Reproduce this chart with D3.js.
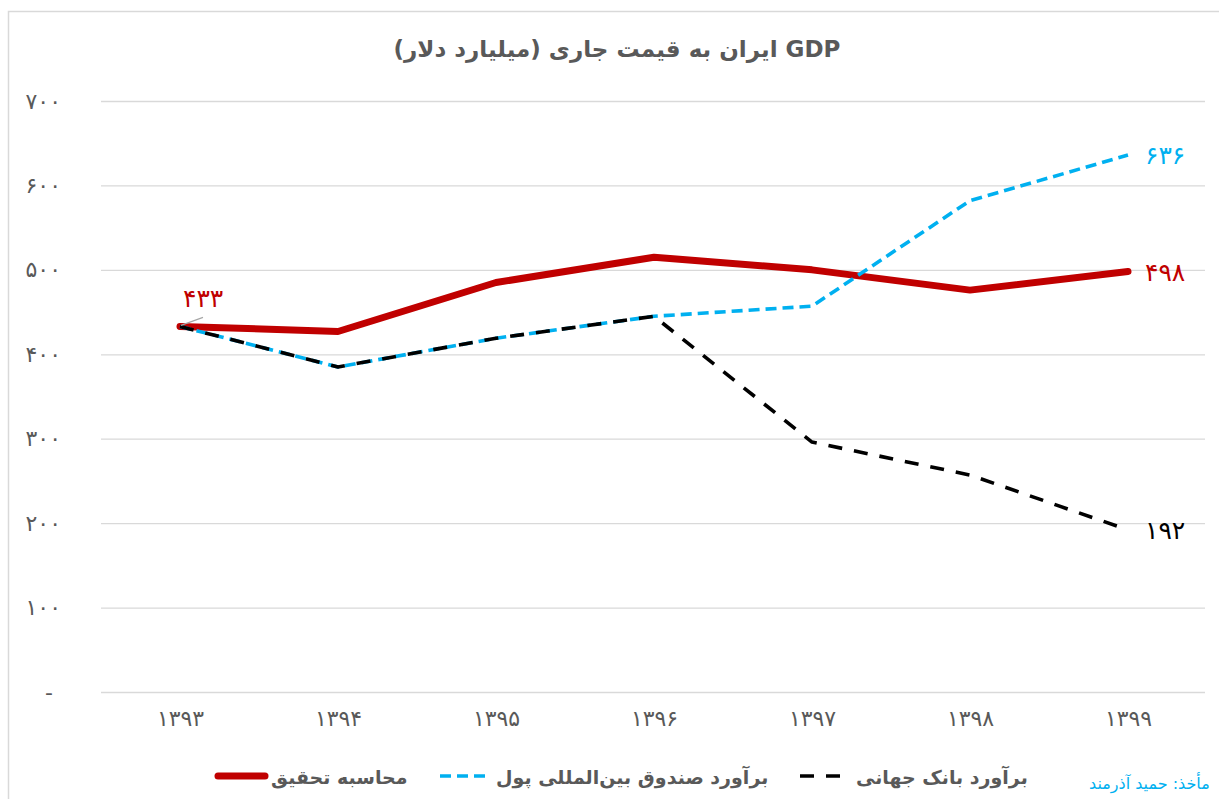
<!DOCTYPE html>
<html>
<head>
<meta charset="utf-8">
<script src="https://cdn.jsdelivr.net/npm/d3@7"></script>
<style>
  body { margin: 0; background: #fff; }
  text { font-family: "DejaVu Sans", sans-serif; }
</style>
</head>
<body>
<div id="chart"></div>
<script>
var years = [1393, 1394, 1395, 1396, 1397, 1398, 1399];
var research = [433, 427, 485, 515, 500, 476, 498];   // محاسبه تحقیق
var imf = [433, 385, 419, 445, 457, 582, 636];        // صندوق بین‌المللی پول
var wb = [433, 385, 419, 445, 296, 257, 192];         // بانک جهانی
var yTicks = [0, 100, 200, 300, 400, 500, 600, 700];

var title = "GDP ایران به قیمت جاری (میلیارد دلار)";
var seriesNames = ["محاسبه تحقیق", "برآورد صندوق بین‌المللی پول", "برآورد بانک جهانی"];
var source = "مأخذ: حمید آذرمند";

var width = 1219, height = 799;
var plot = {left: 101, right: 1207, top: 101, bottom: 692};

function fa(n) {
  return String(n).replace(/\d/g, function(d) { return "۰۱۲۳۴۵۶۷۸۹"[d]; });
}

var svg = d3.select("#chart").append("svg")
    .attr("width", width)
    .attr("height", height);

svg.append("rect")
    .attr("x", 8.5).attr("y", 11.5)
    .attr("width", 1300).attr("height", 900)
    .attr("fill", "none").attr("stroke", "#d9d9d9").attr("stroke-width", 1.5);

var x = d3.scalePoint().domain(years).range([plot.left, plot.right]).padding(0.5),
    y = d3.scaleLinear().domain([0, 700]).range([plot.bottom, plot.top]);

// title
svg.append("text")
    .attr("x", 617).attr("y", 57)
    .attr("direction", "rtl")
    .attr("text-anchor", "middle")
    .attr("font-size", 23).attr("font-weight", "bold")
    .attr("fill", "#595959")
    .text(title);

// grid
svg.append("g").selectAll("line")
    .data(yTicks)
    .enter().append("line")
    .attr("x1", plot.left).attr("x2", 1205)
    .attr("y1", function(d) { return y(d) + 0.5; })
    .attr("y2", function(d) { return y(d) + 0.5; })
    .attr("stroke", "#d9d9d9").attr("stroke-width", 1.3);

// y axis
var yAxis = d3.axisLeft(y).tickValues(yTicks).tickSize(0).tickPadding(0)
    .tickFormat(function(d) { return d === 0 ? "-" : fa(d); });
var gy = svg.append("g").attr("transform", "translate(61,0)").call(yAxis);
gy.select(".domain").remove();
gy.selectAll("text")
    .attr("font-size", 22).attr("fill", "#595959")
    .attr("font-family", "DejaVu Sans")
    .attr("dx", function(d) { return d === 0 ? -8 : 0; });

// x axis
var xAxis = d3.axisBottom(x).tickSize(0).tickPadding(0).tickFormat(fa);
var gx = svg.append("g").attr("transform", "translate(0,710)").call(xAxis);
gx.select(".domain").remove();
gx.selectAll("text")
    .attr("font-size", 22).attr("fill", "#595959")
    .attr("font-family", "DejaVu Sans Condensed");

var line = d3.line()
    .x(function(d, i) { return x(years[i]); })
    .y(function(d) { return y(d); });

svg.append("path").datum(research)
    .attr("d", line).attr("fill", "none")
    .attr("stroke", "#c00000").attr("stroke-width", 7)
    .attr("stroke-linecap", "round").attr("stroke-linejoin", "round");

svg.append("path").datum(imf)
    .attr("d", line).attr("fill", "none")
    .attr("stroke", "#00b0f0").attr("stroke-width", 3.6)
    .attr("stroke-dasharray", "11,6")
    .attr("stroke-linejoin", "round");

svg.append("path").datum(wb)
    .attr("d", line).attr("fill", "none")
    .attr("stroke", "#000").attr("stroke-width", 3.6)
    .attr("stroke-dasharray", "14,12")
    .attr("stroke-linejoin", "round");

// data labels
var last = years.length - 1;
svg.append("line")
    .attr("x1", x(years[0]) + 1).attr("y1", y(research[0]) - 1)
    .attr("x2", x(years[0]) + 23).attr("y2", y(research[0]) - 9)
    .attr("stroke", "#a6a6a6").attr("stroke-width", 1.2);
svg.append("text")
    .attr("x", x(years[0]) + 3).attr("y", y(research[0]) - 19)
    .attr("font-size", 25).attr("fill", "#c00000")
    .text(fa(research[0]));

var endLabels = [
  {v: imf[last], color: "#00b0f0"},
  {v: research[last], color: "#c00000"},
  {v: wb[last], color: "#000"}
];
svg.append("g").selectAll("text")
    .data(endLabels)
    .enter().append("text")
    .attr("x", x(years[last]) + 17)
    .attr("y", function(d) { return y(d.v) + 9; })
    .attr("font-size", 25)
    .attr("fill", function(d) { return d.color; })
    .text(function(d) { return fa(d.v); });

// legend
var legend = [
  {name: seriesNames[0], x: 218, color: "#c00000", w: 7, dash: null, len: 47, cap: "round", tx: 271},
  {name: seriesNames[1], x: 440, color: "#00b0f0", w: 3.6, dash: "11,6", len: 50, cap: "butt", tx: 496},
  {name: seriesNames[2], x: 800, color: "#000", w: 3.6, dash: "14,12", len: 50, cap: "butt", tx: 856}
];
var lg = svg.append("g").selectAll("g").data(legend).enter().append("g");
lg.append("line")
    .attr("x1", function(d) { return d.x; })
    .attr("x2", function(d) { return d.x + d.len; })
    .attr("y1", 776).attr("y2", 776)
    .attr("stroke", function(d) { return d.color; })
    .attr("stroke-width", function(d) { return d.w; })
    .attr("stroke-dasharray", function(d) { return d.dash; })
    .attr("stroke-linecap", function(d) { return d.cap; });
lg.append("text")
    .attr("x", function(d) { return d.tx; })
    .attr("y", 784)
    .attr("font-size", 19).attr("font-weight", "bold")
    .attr("fill", "#595959")
    .text(function(d) { return d.name; });

svg.append("text")
    .attr("x", 1089).attr("y", 789)
    .attr("font-size", 16).attr("fill", "#00b0f0")
    .text(source);
</script>
</body>
</html>
